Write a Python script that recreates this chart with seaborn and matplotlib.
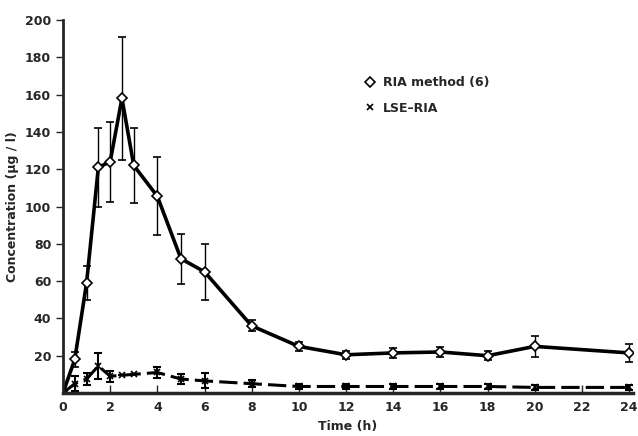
import pandas as pd
import numpy as np
import seaborn as sns
import matplotlib.pyplot as plt

sns.set_style("ticks")
plt.rcParams["font.family"] = ["DejaVu Sans"]
plt.rcParams["font.weight"] = "bold"
plt.rcParams["font.size"] = 9

# RIA method (6)
ria_time = [0, 0.5, 1, 1.5, 2, 2.5, 3, 4, 5, 6, 8, 10, 12, 14, 16, 18, 20, 24]
ria_conc = [0, 18, 59, 121, 124, 158, 122, 105.5, 72, 65, 36, 25, 20.5, 21.5, 22, 20, 25, 21.5]
ria_err = [0, 4, 9, 21, 21.5, 33, 20, 21, 13.5, 15, 3, 2.5, 2, 2.5, 2.5, 2.5, 5.5, 5]

# LSE-RIA
lse_time = [0, 0.5, 1, 1.5, 2, 2.5, 3, 4, 5, 6, 8, 10, 12, 14, 16, 18, 20, 24]
lse_conc = [0, 5, 7.5, 14.5, 9, 9.5, 10, 11, 7.5, 6.5, 5, 3.5, 3.5, 3.5, 3.5, 3.5, 3, 3]
lse_err = [0, 4, 3, 7, 3, 0, 0, 3, 2.5, 4, 2, 1.5, 1.5, 1.5, 1.5, 1.5, 1.5, 1.5]

ria = pd.DataFrame({"Time": ria_time, "Conc": ria_conc, "Err": ria_err})
lse = pd.DataFrame({"Time": lse_time, "Conc": lse_conc, "Err": lse_err})

fig = plt.figure(figsize=(6.38, 4.36), dpi=100)
ax = fig.add_axes([0.0987, 0.0986, 0.893, 0.8555])

# error bars first, then lines on top
ax.errorbar(ria["Time"], ria["Conc"], yerr=ria["Err"], fmt="none", ecolor="black",
            elinewidth=1, capsize=3, capthick=1.2)
ax.errorbar(lse["Time"], lse["Conc"], yerr=lse["Err"], fmt="none", ecolor="black",
            elinewidth=1.5, capsize=3, capthick=1.5)

sns.lineplot(data=ria, x="Time", y="Conc", ax=ax, color="black", linewidth=2.6,
             marker="D", markersize=5.5, markerfacecolor="white", markeredgecolor="black",
             markeredgewidth=1.2, label="RIA method (6)", legend=False)
sns.lineplot(data=lse, x="Time", y="Conc", ax=ax, color="black", linewidth=2.2,
             linestyle=(0, (6, 2)), marker="x", markersize=4, markeredgewidth=1.2,
             markeredgecolor="black", label="LSE\u2013RIA", legend=False)

ax.set_xlim(0, 24.15)
ax.set_ylim(0, 200)
ax.set_xticks(range(0, 25, 2))
ax.set_yticks(range(20, 201, 20))
ax.tick_params(axis="x", direction="in", length=6, width=1, pad=6)
ax.tick_params(axis="y", direction="out", length=5, width=1)
sns.despine(ax=ax)
ax.spines["left"].set_linewidth(2)
ax.spines["bottom"].set_linewidth(2.5)

ax.set_xlabel("Time (h)", fontweight="bold", labelpad=4)
ax.set_ylabel("Concentration (\u03bcg / l)", fontweight="bold", labelpad=4)

leg = ax.legend(loc="upper left", bbox_to_anchor=(0.52, 0.88), frameon=False,
                handlelength=0, handletextpad=1.0, labelspacing=1.0, fontsize=9)
for line in leg.get_lines():
    line.set_linestyle("none")

plt.savefig("out.png", dpi=100)
